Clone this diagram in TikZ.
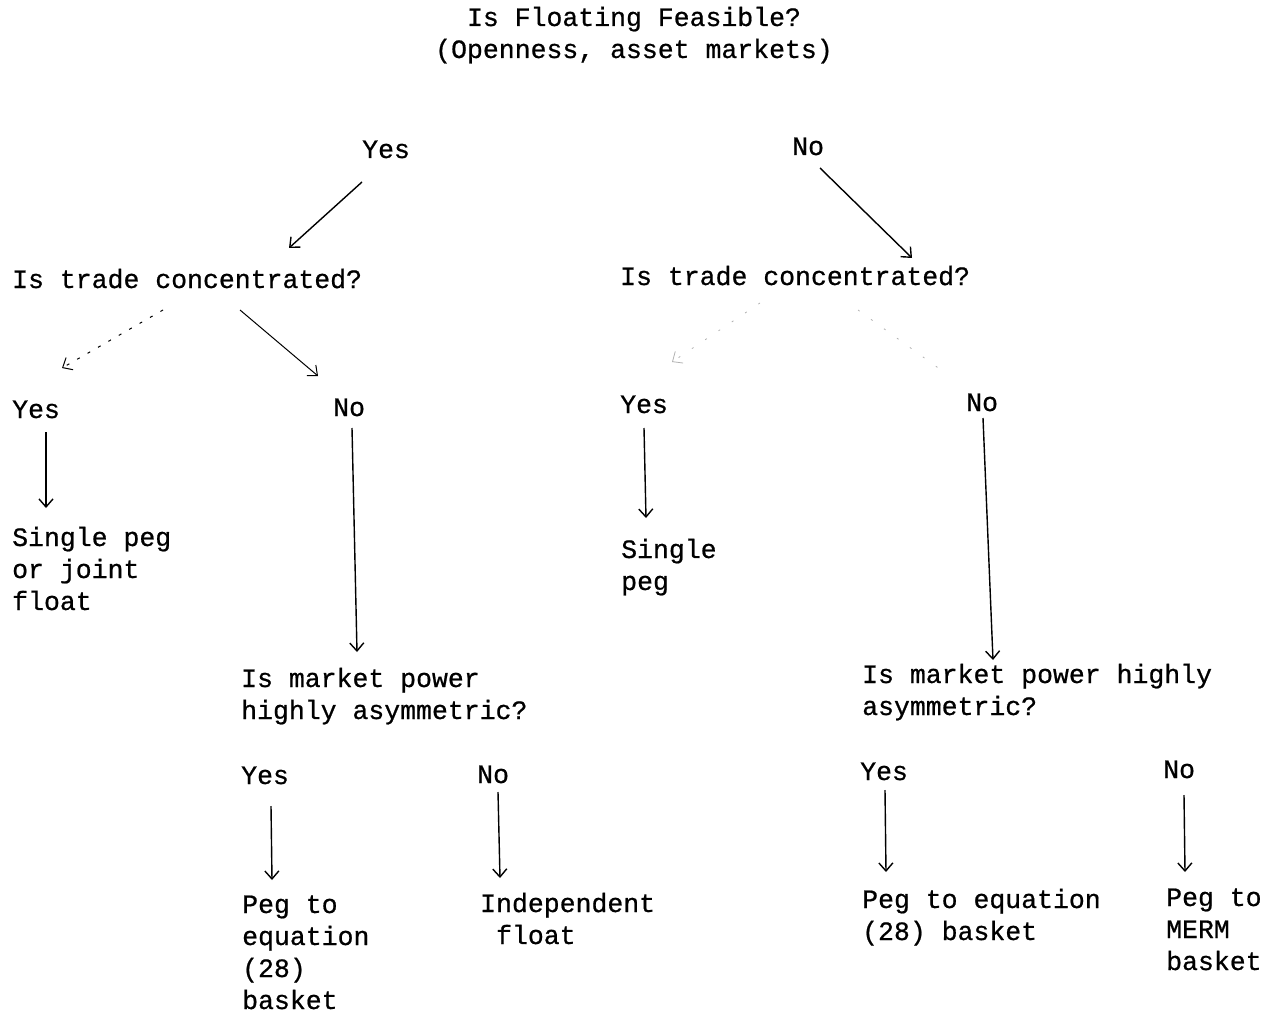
\documentclass[tikz,border=0pt]{standalone}
\usepackage{fontspec}
\newfontfamily\tw[BoldFont={Liberation Mono}, BoldFeatures={FakeBold=0.7}]{Liberation Mono}
\usetikzlibrary{arrows.meta,calc}
\tikzset{
  txt/.style={anchor=base west, inner sep=0pt, align=left, font=\tw\bfseries\fontsize{26.5}{32}\selectfont},
  arr/.style={line width=1.4pt, -{Straight Barb[length=8pt,width=14pt]}},
  faintarr/.style={arr, dash pattern=on 3pt off 9pt, line width=1pt},
  ghostarr/.style={arr, gray!60, dash pattern=on 2pt off 14pt, line width=0.8pt}
}
\begin{document}
\begin{tikzpicture}[x=1pt,y=-1pt]
\useasboundingbox (0,0) rectangle (1277,1019);
\node[txt, anchor=base, align=center] (title) at (634,58) {Is Floating Feasible?\\(Openness, asset markets)};
\node[txt] (yesT) at (362,158) {Yes};
\node[txt] (noT) at (792,155) {No};
\node[txt] (itcL) at (12,288) {Is trade concentrated?};
\node[txt] (itcR) at (620,285) {Is trade concentrated?};
\node[txt] (yesL) at (12,418) {Yes};
\node[txt] (noL) at (333,416) {No};
\node[txt] (yesR) at (620,413) {Yes};
\node[txt] (noR) at (966,411) {No};
\node[txt] (spL) at (12,610) {Single peg\\or joint\\float};
\node[txt] (spR) at (621,590) {Single\\peg};
\node[txt] (mpL) at (241,719) {Is market power\\highly asymmetric?};
\node[txt] (mpR) at (862,715) {Is market power highly\\asymmetric?};
\node[txt] (yesLL) at (241,784) {Yes};
\node[txt] (noLL) at (477,783) {No};
\node[txt] (yesRR) at (860,780) {Yes};
\node[txt] (noRR) at (1163,778) {No};
\node[txt] (pegL) at (242,1009) {Peg to\\equation\\(28)\\basket};
\node[txt] (indep) at (480,944) {Independent\\\ float};
\node[txt] (pegR) at (862,940) {Peg to equation\\(28) basket};
\node[txt] (merm) at (1166,970) {Peg to\\MERM\\basket};

\draw[arr] ($(yesT.base west)+(0,24)$) -- ($(itcL.base west)+(277,-40)$);
\draw[arr] ($(noT.base west)+(28,13)$) -- ($(itcR.base west)+(292,-27)$);
\draw[faintarr] ($(itcL.base west)+(151,22)$) -- ($(yesL.base west)+(50,-50)$);
\draw[arr, line width=1pt] ($(itcL.base west)+(228,22)$) -- ($(noL.base west)+(-15,-40)$);
\draw[ghostarr] ($(itcR.base west)+(140,18)$) -- ($(yesR.base west)+(52,-51)$);
\draw[ghostarr, -] ($(itcR.base west)+(238,25)$) -- ($(noR.base west)+(-18,-36)$);
\draw[arr] ($(yesL.base west)+(34,14)$) -- ($(spL.base west)+(34,-102)$);
\draw[arr] ($(noL.base west)+(19,12)$) -- ($(mpL.base west)+(116,-67)$);
\draw[arr] ($(yesR.base west)+(24,15)$) -- ($(spR.base west)+(25,-72)$);
\draw[arr] ($(noR.base west)+(17,7)$) -- ($(mpR.base west)+(131,-55)$);
\draw[arr] ($(yesLL.base west)+(30,22)$) -- ($(pegL.base west)+(30,-129)$);
\draw[arr] ($(noLL.base west)+(21,9)$) -- ($(indep.base west)+(20,-66)$);
\draw[arr] ($(yesRR.base west)+(25,10)$) -- ($(pegR.base west)+(24,-68)$);
\draw[arr] ($(noRR.base west)+(21,17)$) -- ($(merm.base west)+(19,-98)$);
\end{tikzpicture}
\end{document}
